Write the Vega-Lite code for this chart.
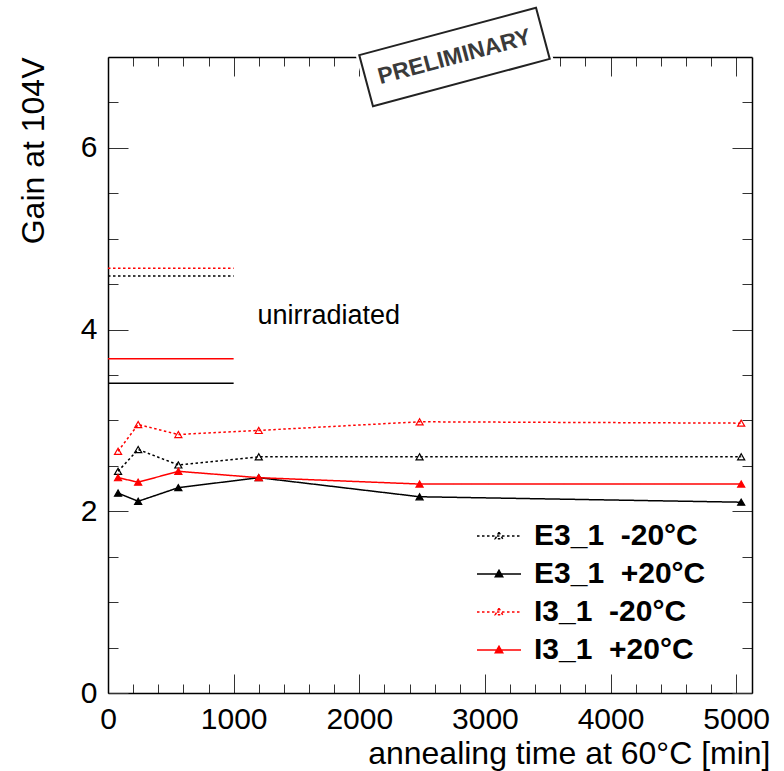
{
  "$schema": "https://vega.github.io/schema/vega-lite/v6.json",
  "width": 644,
  "height": 636,
  "autosize": "none",
  "padding": {"left": 108, "top": 57, "right": 32, "bottom": 78},
  "background": "white",
  "config": {
    "view": {"stroke": null},
    "font": "Liberation Sans",
    "axis": {
      "domainColor": "black",
      "domainWidth": 1.5,
      "tickColor": "#333",
      "tickWidth": 1,
      "grid": false,
      "labelFont": "Liberation Sans",
      "labelFontSize": 30,
      "labelColor": "black",
      "labelOverlap": false,
      "labelFlush": false,
      "titleFont": "Liberation Sans",
      "titleFontSize": 32,
      "titleFontWeight": "normal",
      "titleColor": "black"
    }
  },
  "datasets": {
    "irradiated": [
      {"series": "E3_1\u00a0\u00a0-20°C", "t": 80, "gain": 2.44},
      {"series": "E3_1\u00a0\u00a0-20°C", "t": 240, "gain": 2.68},
      {"series": "E3_1\u00a0\u00a0-20°C", "t": 560, "gain": 2.51},
      {"series": "E3_1\u00a0\u00a0-20°C", "t": 1200, "gain": 2.60},
      {"series": "E3_1\u00a0\u00a0-20°C", "t": 2480, "gain": 2.60},
      {"series": "E3_1\u00a0\u00a0-20°C", "t": 5040, "gain": 2.60},
      {"series": "E3_1\u00a0\u00a0+20°C", "t": 80, "gain": 2.20},
      {"series": "E3_1\u00a0\u00a0+20°C", "t": 240, "gain": 2.11},
      {"series": "E3_1\u00a0\u00a0+20°C", "t": 560, "gain": 2.26},
      {"series": "E3_1\u00a0\u00a0+20°C", "t": 1200, "gain": 2.37},
      {"series": "E3_1\u00a0\u00a0+20°C", "t": 2480, "gain": 2.16},
      {"series": "E3_1\u00a0\u00a0+20°C", "t": 5040, "gain": 2.10},
      {"series": "I3_1\u00a0\u00a0-20°C", "t": 80, "gain": 2.66},
      {"series": "I3_1\u00a0\u00a0-20°C", "t": 240, "gain": 2.955},
      {"series": "I3_1\u00a0\u00a0-20°C", "t": 560, "gain": 2.845},
      {"series": "I3_1\u00a0\u00a0-20°C", "t": 1200, "gain": 2.89},
      {"series": "I3_1\u00a0\u00a0-20°C", "t": 2480, "gain": 2.985},
      {"series": "I3_1\u00a0\u00a0-20°C", "t": 5040, "gain": 2.97},
      {"series": "I3_1\u00a0\u00a0+20°C", "t": 80, "gain": 2.37},
      {"series": "I3_1\u00a0\u00a0+20°C", "t": 240, "gain": 2.32},
      {"series": "I3_1\u00a0\u00a0+20°C", "t": 560, "gain": 2.44},
      {"series": "I3_1\u00a0\u00a0+20°C", "t": 1200, "gain": 2.37},
      {"series": "I3_1\u00a0\u00a0+20°C", "t": 2480, "gain": 2.30},
      {"series": "I3_1\u00a0\u00a0+20°C", "t": 5040, "gain": 2.30}
    ],
    "unirradiated": [
      {"series": "E3_1\u00a0\u00a0-20°C", "gain": 4.59},
      {"series": "E3_1\u00a0\u00a0+20°C", "gain": 3.41},
      {"series": "I3_1\u00a0\u00a0-20°C", "gain": 4.675},
      {"series": "I3_1\u00a0\u00a0+20°C", "gain": 3.68}
    ]
  },
  "layer": [
    {
      "data": {"name": "irradiated"},
      "mark": {"type": "line", "strokeWidth": 1.5},
      "encoding": {
        "x": {
          "field": "t", "type": "quantitative",
          "scale": {"domain": [0, 5126], "nice": false, "zero": false},
          "axis": {
            "orient": "bottom",
            "values": [0,200,400,600,800,1000,1200,1400,1600,1800,2000,2200,2400,2600,2800,3000,3200,3400,3600,3800,4000,4200,4400,4600,4800,5000],
            "labelExpr": "datum.value % 1000 === 0 ? '' + datum.value : ''",
            "tickSize": {"condition": {"test": "datum.value % 1000 === 0", "value": -19}, "value": -9},
            "labelPadding": 30,
            "title": "annealing time at 60°C [min]",
            "titleX": 662,
            "titleY": 70,
            "titleAlign": "right",
            "titleAnchor": "end",
            "titleBaseline": "alphabetic"
          }
        },
        "y": {
          "field": "gain", "type": "quantitative",
          "scale": {"domain": [0, 7], "nice": false, "zero": false},
          "axis": {
            "orient": "left",
            "values": [0,0.5,1,1.5,2,2.5,3,3.5,4,4.5,5,5.5,6,6.5],
            "labelExpr": "datum.value % 2 === 0 ? '' + datum.value : ''",
            "tickSize": {"condition": {"test": "datum.value % 2 === 0", "value": -20}, "value": -10},
            "labelPadding": 31,
            "title": "Gain at 104V",
            "titleX": -65,
            "titleY": 0,
            "titleAngle": -90,
            "titleAlign": "right",
            "titleAnchor": "end",
            "titleBaseline": "alphabetic"
          }
        },
        "stroke": {
          "field": "series", "type": "nominal",
          "scale": {
            "domain": ["E3_1\u00a0\u00a0-20°C", "E3_1\u00a0\u00a0+20°C", "I3_1\u00a0\u00a0-20°C", "I3_1\u00a0\u00a0+20°C"],
            "range": ["black", "black", "red", "red"]
          },
          "legend": {
            "title": null,
            "orient": "none",
            "legendX": 368,
            "legendY": 456,
            "symbolType": "M-1,0H1M0,-0.17L0.17,0.13L-0.17,0.13Z",
            "symbolSize": 1936,
            "symbolStrokeWidth": 1.5,
            "labelFont": "Liberation Sans",
            "labelFontSize": 30,
            "labelFontWeight": "bold",
            "labelColor": "black",
            "labelOffset": 12,
            "labelLimit": 400,
            "rowPadding": -2.5
          }
        },
        "strokeDash": {
          "field": "series", "type": "nominal",
          "scale": {
            "domain": ["E3_1\u00a0\u00a0-20°C", "E3_1\u00a0\u00a0+20°C", "I3_1\u00a0\u00a0-20°C", "I3_1\u00a0\u00a0+20°C"],
            "range": [[2.5, 2.5], [1, 0], [2.5, 2.5], [1, 0]]
          }
        }
      }
    },
    {
      "data": {"name": "irradiated"},
      "mark": {"type": "point", "shape": "triangle-up", "size": 50, "strokeWidth": 1.2, "opacity": 1},
      "encoding": {
        "x": {
          "field": "t", "type": "quantitative",
          "axis": {
            "orient": "top",
            "values": [0,200,400,600,800,1000,1200,1400,1600,1800,2000,2200,2400,2600,2800,3000,3200,3400,3600,3800,4000,4200,4400,4600,4800,5000],
            "labels": false,
            "title": null,
            "tickSize": {"condition": {"test": "datum.value % 1000 === 0", "value": -19}, "value": -9}
          }
        },
        "y": {
          "field": "gain", "type": "quantitative",
          "axis": {
            "orient": "right",
            "values": [0,0.5,1,1.5,2,2.5,3,3.5,4,4.5,5,5.5,6,6.5],
            "labels": false,
            "title": null,
            "tickSize": {"condition": {"test": "datum.value % 2 === 0", "value": -20}, "value": -10}
          }
        },
        "stroke": {"field": "series", "type": "nominal"},
        "fill": {
          "field": "series", "type": "nominal",
          "scale": {
            "domain": ["E3_1\u00a0\u00a0-20°C", "E3_1\u00a0\u00a0+20°C", "I3_1\u00a0\u00a0-20°C", "I3_1\u00a0\u00a0+20°C"],
            "range": ["transparent", "black", "transparent", "red"]
          }
        }
      }
    },
    {
      "data": {"name": "unirradiated"},
      "mark": {"type": "rule", "strokeWidth": 1.5},
      "encoding": {
        "x": {"datum": 0, "type": "quantitative", "axis": null},
        "x2": {"datum": 1000},
        "y": {"field": "gain", "type": "quantitative", "axis": null},
        "stroke": {"field": "series", "type": "nominal"},
        "strokeDash": {"field": "series", "type": "nominal"}
      }
    },
    {
      "data": {"values": [{"label": "unirradiated"}]},
      "mark": {"type": "text", "align": "left", "baseline": "alphabetic", "fontSize": 27, "font": "Liberation Sans", "color": "black"},
      "encoding": {
        "x": {"datum": 1190, "type": "quantitative", "axis": null},
        "y": {"datum": 4.06, "type": "quantitative", "axis": null},
        "text": {"field": "label"}
      }
    },
    {
      "data": {"values": [{"label": "PRELIMINARY"}]},
      "encoding": {
        "x": {"datum": 2758, "type": "quantitative", "axis": null},
        "y": {"datum": 7.0, "type": "quantitative", "axis": null}
      },
      "layer": [
        {"mark": {"type": "point", "shape": "M-0.95,-0.33H0.95V0.33H-0.95Z", "size": 40000, "angle": -15, "filled": true, "fill": "white", "stroke": null, "opacity": 1, "clip": false}},
        {"mark": {"type": "point", "shape": "M-0.915,-0.265H0.915V0.265H-0.915Z", "size": 40000, "angle": -15, "filled": false, "stroke": "#222", "strokeWidth": 2, "opacity": 1, "clip": false}},
        {"mark": {"type": "text", "angle": -15, "fontSize": 23, "fontWeight": "bold", "font": "Liberation Sans", "color": "#3a3a3a", "align": "center", "baseline": "middle", "clip": false}, "encoding": {"text": {"field": "label"}}}
      ]
    }
  ],
  "resolve": {"axis": {"x": "independent", "y": "independent"}}
}
